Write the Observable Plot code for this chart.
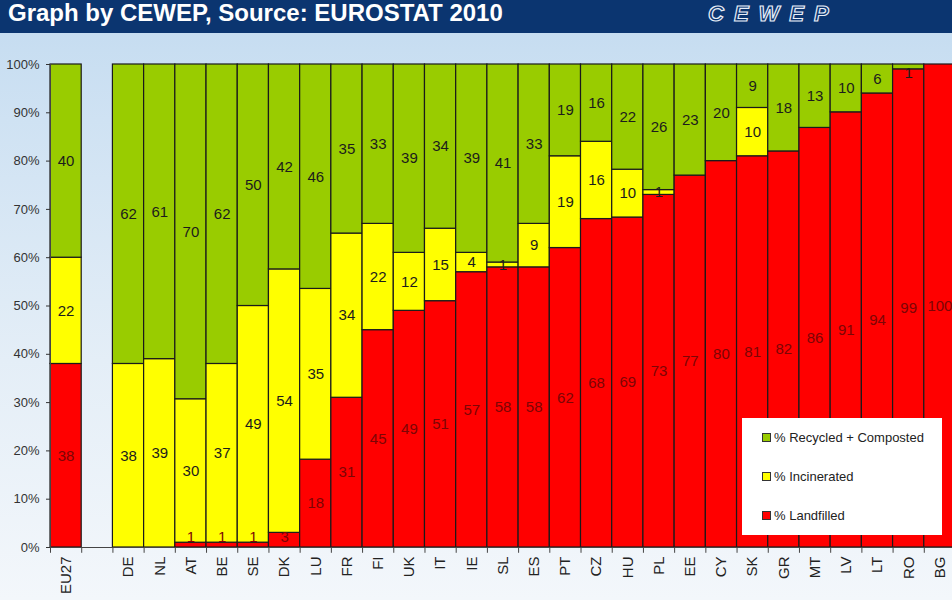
<!DOCTYPE html>
<html>
<head>
<meta charset="utf-8">
<script src="https://cdn.jsdelivr.net/npm/d3@7"></script>
<script src="https://cdn.jsdelivr.net/npm/@observablehq/plot@0.6"></script>
<style>
  html, body { margin: 0; padding: 0; }
  body { width: 952px; height: 600px; overflow: hidden; font-family: "Liberation Sans", Arial, sans-serif; }
  #wrap { position: relative; width: 952px; height: 600px; overflow: hidden;
    background: linear-gradient(to bottom, #c3dbf0 0%, #cfe2f3 20%, #e4eef7 60%, #f3f7fb 100%); }
  #header { position: relative; height: 33px; background: #0b3570; overflow: hidden; }
  #title { position: absolute; left: 8px; top: 1px; line-height: 24px; color: #fff; font-weight: bold; font-size: 24px; white-space: nowrap; }
  #logo { position: absolute; left: 708px; top: 2px; line-height: 24px; font-size: 22px; font-weight: bold; font-style: italic;
    color: #0b3570; -webkit-text-stroke: 1.2px #e8eef8; letter-spacing: 10px; white-space: nowrap; padding-right: 4px; }
  #chart { position: absolute; left: 0; top: 33px; }
  #legend { position: absolute; left: 742px; top: 418px; width: 200px; height: 117px; background: #fff; }
  .item { position: absolute; left: 20px; font-size: 13px; color: #222; white-space: nowrap; }
  .sw { display: inline-block; width: 7px; height: 7px; border: 1px solid #333; margin-right: 3px; vertical-align: 0px; }
</style>
</head>
<body>
<div id="wrap">
  <div id="header"><div id="title">Graph by CEWEP, Source: EUROSTAT 2010</div><div id="logo">CEWEP</div></div>
  <div id="chart"></div>
  <div id="legend"></div>
</div>
<script>
const countries = ["EU27", " ", "DE", "NL", "AT", "BE", "SE", "DK", "LU", "FR", "FI", "UK", "IT", "IE", "SL", "ES", "PT", "CZ", "HU", "PL", "EE", "CY", "SK", "GR", "MT", "LV", "LT", "RO", "BG"];
const landfilled  = [38, null, 0, 0, 1, 1, 1, 3, 18, 31, 45, 49, 51, 57, 58, 58, 62, 68, 69, 73, 77, 80, 81, 82, 86, 91, 94, 99, 100];
const incinerated = [22, null, 38, 39, 30, 37, 49, 54, 35, 34, 22, 12, 15, 4, 1, 9, 19, 16, 10, 1, 0, 0, 10, 0, 0, 0, 0, 0, 0];
const recycled    = [40, null, 62, 61, 70, 62, 50, 42, 46, 35, 33, 39, 34, 39, 41, 33, 19, 16, 22, 26, 23, 20, 9, 18, 13, 10, 6, 1, 0];
const seriesNames = ["% Landfilled", "% Incinerated", "% Recycled + Composted"];
const seriesColors = ["#ff0000", "#ffff00", "#99cc00"];
const yTicks = [0, 0.1, 0.2, 0.3, 0.4, 0.5, 0.6, 0.7, 0.8, 0.9, 1];

const series = [landfilled, incinerated, recycled];
const data = [];
const labels = [];
countries.forEach((c, i) => {
  if (landfilled[i] == null) return;
  const total = series.reduce((a, arr) => a + arr[i], 0);
  let cum = 0;
  series.forEach((arr, s) => {
    const v = arr[i];
    data.push({country: c, type: seriesNames[s], value: v});
    // label at the segment middle, kept inside the plot area (as the spreadsheet does)
    const mid = Math.min(0.983, Math.max(0.022, (cum + v / 2) / total));
    labels.push({country: c, type: seriesNames[s], value: v, pos: mid});
    cum += v;
  });
});

const W = 952, H = 567, mL = 50, mR = -3;
const step = (W - mR - mL) / countries.length;

const chart = Plot.plot({
  width: W,
  height: H,
  marginTop: 31,
  marginBottom: 53,
  marginLeft: mL,
  marginRight: mR,
  style: {fontFamily: "Liberation Sans, Arial, sans-serif", background: "transparent", overflow: "visible"},
  x: {domain: countries, padding: 0, round: false, label: null},
  y: {domain: [0, 1], label: null},
  color: {domain: seriesNames, range: seriesColors},
  marks: [
    Plot.barY(data, Plot.stackY({x: "country", y: "value", z: "type", order: seriesNames, offset: "normalize",
      fill: "type", stroke: "#1a1a1a", strokeWidth: 1.2})),
    Plot.text(labels, {x: "country", y: "pos", filter: d => d.value > 0 && d.type === "% Landfilled",
      text: d => String(d.value), fill: "#7c0505", fontSize: 15}),
    Plot.text(labels, {x: "country", y: "pos", filter: d => d.value > 0 && d.type !== "% Landfilled",
      text: d => String(d.value), fill: "#1c1c1c", fontSize: 15}),
    Plot.ruleY([0], {stroke: "#444", strokeWidth: 1}),
    Plot.frame({anchor: "left", stroke: "#444"}),
    Plot.ruleX(countries, {x: d => d, dx: -step / 2, y1: 0, y2: -0.012, stroke: "#444"}),
    Plot.axisY({ticks: yTicks, tickFormat: d3.format(".0%"), tickSize: 4, tickPadding: 7, fontSize: 13, color: "#333", label: null}),
    Plot.axisX({tickRotate: -90, tickSize: 0, tickPadding: 9, fontSize: 15, color: "#222", label: null})
  ]
});
document.getElementById("chart").appendChild(chart);

const legend = document.getElementById("legend");
[2, 1, 0].forEach((s, k) => {
  const div = document.createElement("div");
  div.className = "item";
  div.style.top = (12 + k * 39) + "px";
  div.innerHTML = `<span class="sw" style="background:${seriesColors[s]}"></span>${seriesNames[s]}`;
  legend.appendChild(div);
});
</script>
</body>
</html>
